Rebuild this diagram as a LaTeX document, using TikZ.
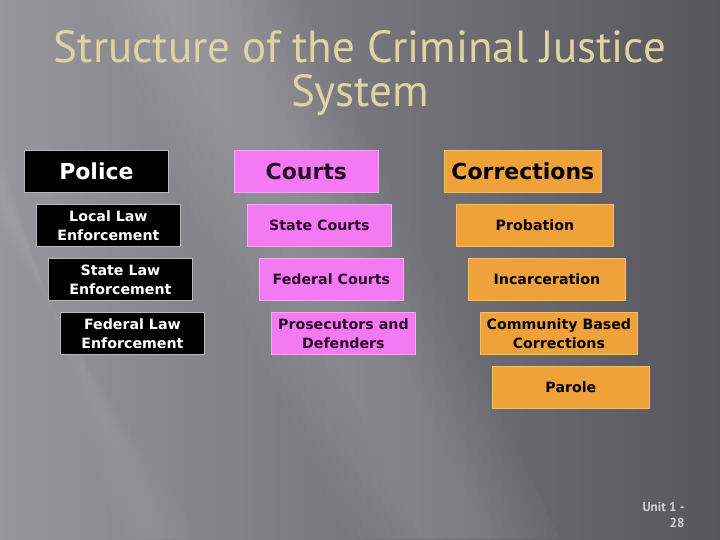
\documentclass[tikz,border=0pt]{standalone}
\usepackage{fontspec}
\setmainfont{DejaVu Sans}
\newfontfamily\titlefont{PT Sans}
\definecolor{bgleft}{HTML}{96969C}
\definecolor{bgright}{HTML}{56565C}
\definecolor{titlegold}{HTML}{DED4A2}
\definecolor{pinkfill}{HTML}{F47AF4}
\definecolor{pinkline}{HTML}{F9A8F9}
\definecolor{pinktext}{HTML}{2A0A2A}
\definecolor{orangefill}{HTML}{EFA23A}
\definecolor{orangeline}{HTML}{F6BE6C}
\begin{document}
\begin{tikzpicture}[x=1pt,y=-1pt,
    boxbase/.style={anchor=north west, minimum height=42pt, inner sep=0pt,
        align=center, line width=0.8pt, font=\bfseries\fontsize{14.2}{19}\selectfont},
    headfont/.style={font=\bfseries\fontsize{22}{24}\selectfont},
    policebox/.style={boxbase, fill=black, draw=gray!55, text=white, minimum width=144pt},
    courtbox/.style={boxbase, fill=pinkfill, draw=pinkline, text=pinktext, minimum width=144pt},
    corrbox/.style={boxbase, fill=orangefill, draw=orangeline, text=black, minimum width=157pt}]

    %% background
    \useasboundingbox (0,0) rectangle (720,539);
    \shade[left color=bgleft, right color=bgright] (0,0) rectangle (720,539);
    \foreach \d in {0,10,...,70}
        \fill[white, opacity=0.018] (90+\d,0) -- (300-\d,0) -- (560-\d,539) -- (350+\d,539) -- cycle;
    \foreach \d in {0,6,...,30}
        \fill[white, opacity=0.015] (0,150+\d) -- (0,230-\d) -- (200-\d,539) -- (120+\d,539) -- cycle;

    %% title
    \node[text=titlegold, align=center, font=\titlefont\fontsize{45}{44}\selectfont]
        (title) at (360,73){Structure of the Criminal Justice\\System};

    %% police column
    \node[policebox, headfont] (police) at (24,150){Police};
    \node[policebox] (local) at (36,204){Local Law\\Enforcement};
    \node[policebox] (state) at (48,258){State Law\\Enforcement};
    \node[policebox] (federal) at (60,312){Federal Law\\Enforcement};

    %% courts column
    \node[courtbox, headfont] (courts) at (234,150){Courts};
    \node[courtbox] (statecourts) at (247,204){State Courts};
    \node[courtbox] (fedcourts) at (259,258){Federal Courts};
    \node[courtbox] (prosecutors) at (271,312){Prosecutors and\\Defenders};

    %% corrections column
    \node[corrbox, headfont] (corrections) at (444,150){Corrections};
    \node[corrbox] (probation) at (456,204){Probation};
    \node[corrbox] (incarceration) at (468,258){Incarceration};
    \node[corrbox] (community) at (480,312){Community Based\\Corrections};
    \node[corrbox] (parole) at (492,366){Parole};

    %% slide number
    \node[anchor=north east, align=right, text=gray!35, font=\titlefont\bfseries\fontsize{13}{16}\selectfont]
        (unit) at (688,499){Unit 1 -\\28};
\end{tikzpicture}
\end{document}
